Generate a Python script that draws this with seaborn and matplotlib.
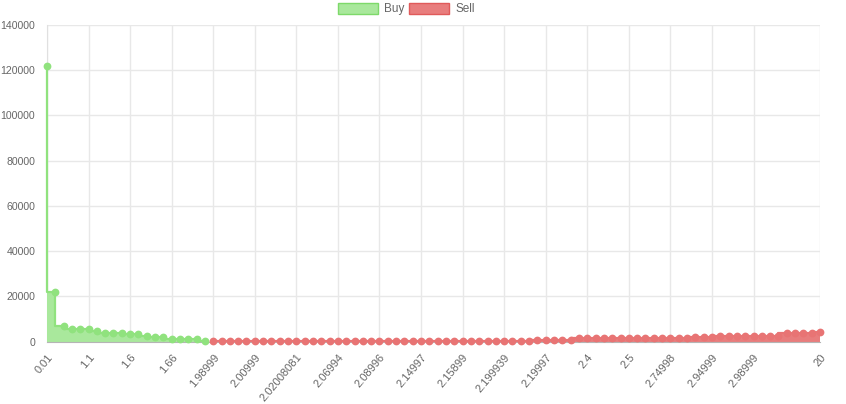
import numpy as np
import matplotlib
matplotlib.use("Agg")
import matplotlib.pyplot as plt
from matplotlib.patches import Patch
import seaborn as sns

# order book depth, one point per price level (categorical x)
buy_volume = [122000, 22000, 7000, 5800, 5800, 5600, 4600, 4000, 4000, 4000,
              3550, 3250, 2370, 1900, 1900, 1200, 1200, 1200, 1000, 100]
sell_volume = [150, 160, 170, 180, 190, 200, 210, 220, 230, 240,
               250, 260, 270, 280, 290, 300, 310, 320, 330, 340,
               350, 360, 370, 380, 390, 400, 410, 420, 430, 440,
               450, 460, 470, 480, 490, 500, 510, 520, 530, 540,
               560, 580, 600, 620,
               1500, 1520, 1540, 1560, 1580, 1500, 1500, 1520, 1540, 1560,
               1600, 1750, 1750, 1800, 2000, 2200, 2200, 2300, 2400, 2400,
               2450, 2500, 2550, 2600, 2650, 3700, 3900, 4000, 4050, 4150]
tick_pos = [0, 5, 10, 15, 20, 25, 30, 35, 40, 45, 50, 55, 60, 65, 70, 75, 80, 85, 93]
tick_labels = ["0.01", "1.1", "1.6", "1.66", "1.98999", "2.00999", "2.02008081",
               "2.06994", "2.08996", "2.14997", "2.15899", "2.199939", "2.19997",
               "2.4", "2.5", "2.74998", "2.94999", "2.98999", "20"]

buy_x = np.arange(len(buy_volume))
sell_x = np.arange(len(buy_volume), len(buy_volume) + len(sell_volume))

sns.set_style("white")
plt.rcParams["font.family"] = ["Liberation Sans", "DejaVu Sans"]

fig = plt.figure(figsize=(8.46, 4.04), dpi=100)
ax = fig.add_axes([47 / 846, 1 - 341.7 / 404, 773 / 846, (341.7 - 25) / 404])

green_line = "#90e27e"
green_fill = "#a9e89c"
red_line = "#e87474"
red_fill = "#e87d7d"

ax.fill_between(buy_x, buy_volume, step="pre", color=green_fill, lw=0, zorder=2)
ax.fill_between(sell_x, sell_volume, step="pre", color=red_fill, lw=0, zorder=2)
sns.lineplot(x=buy_x, y=buy_volume, ax=ax, drawstyle="steps-pre", color=green_line,
             lw=1.6, marker="o", markersize=5.6, markeredgewidth=0, zorder=4,
             clip_on=False)
sns.lineplot(x=sell_x, y=sell_volume, ax=ax, drawstyle="steps-pre", color=red_line,
             lw=1.6, marker="o", markersize=5.6, markeredgewidth=0, zorder=4,
             clip_on=False)

ax.set_xlim(0, 93)
ax.set_ylim(0, 140000)
ax.set_yticks(range(0, 140001, 20000))
ax.set_xticks(tick_pos)
ax.set_xticklabels(tick_labels, rotation=50, ha="right", rotation_mode="anchor")
ax.grid(True, color="#e8e8e8", lw=1)
ax.set_axisbelow(True)
ax.tick_params(axis="both", colors="#e0e0e0", labelcolor="#666666", labelsize=7.6,
               length=7, width=1)
ax.tick_params(axis="y", pad=1.5)
ax.tick_params(axis="x", pad=0.5, labelsize=8)
for side in ["top", "right"]:
    ax.spines[side].set_visible(False)
ax.spines["left"].set_color("#e0e0e0")
ax.spines["bottom"].set_color("#b5b5b5")
ax.spines["left"].set_zorder(1)

handles = [Patch(facecolor=green_fill, edgecolor="#7ed96a", lw=1, label="Buy"),
           Patch(facecolor=red_fill, edgecolor="#e05a5a", lw=1, label="Sell")]
leg = fig.legend(handles=handles, loc="upper center", bbox_to_anchor=(0.4805, 1.02),
                 ncol=2, frameon=False, fontsize=8.5, handlelength=3.4, handleheight=1.1,
                 handletextpad=0.5, columnspacing=0.4)
for t in leg.get_texts():
    t.set_color("#666666")

fig.savefig("out.png", dpi=100)
